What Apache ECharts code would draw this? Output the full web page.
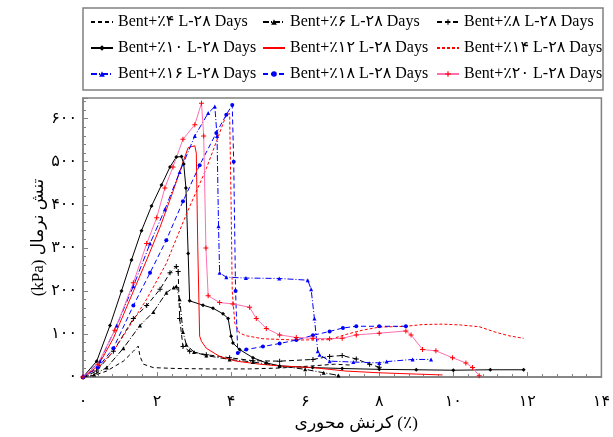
<!DOCTYPE html>
<html>
<head>
<meta charset="utf-8">
<script src="https://cdn.jsdelivr.net/npm/echarts@6/dist/echarts.min.js"></script>
<style>
html,body{margin:0;padding:0;background:#fff;}
#main{width:613px;height:437px;}
</style>
</head>
<body>
<div id="main"></div>
<script>
var myChart = echarts.init(document.getElementById('main'));

// series names (legend)
var names = [
	'Bent+٪۴ L-۲۸ Days', 'Bent+٪۶ L-۲۸ Days', 'Bent+٪۸ L-۲۸ Days',
	'Bent+٪۱۰ L-۲۸ Days', 'Bent+٪۱۲ L-۲۸ Days', 'Bent+٪۱۴ L-۲۸ Days',
	'Bent+٪۱۶ L-۲۸ Days', 'Bent+٪۱۸ L-۲۸ Days', 'Bent+٪۲۰ L-۲۸ Days'
];

// [strain %, stress kPa]
var bent4 = [[0,0],[0.3,4],[0.64,14],[1.09,37],[1.36,60],[1.49,72],[1.54,48],[1.63,30],[1.9,22],[2.5,20],[3.4,19],[4.5,19],[5.3,21],[6.2,26],[6.8,30],[7.2,28]];
var bent6 = [[0,0],[0.3,6],[0.64,22],[1.09,67],[1.54,120],[1.9,151],[2.25,196],[2.45,208],[2.52,211],[2.61,181],[2.7,105],[2.79,75],[3.0,58],[3.33,50],[3.96,41],[4.59,35],[5.31,26],[6.0,18],[6.5,10],[6.9,4]];
var bent8 = [[0,0],[0.37,14],[0.82,60],[1.36,136],[1.72,166],[2.08,204],[2.35,242],[2.52,257],[2.57,245],[2.61,136],[2.7,71],[2.88,60],[3.33,52],[3.96,45],[4.59,38],[5.31,37],[6.21,41],[6.66,48],[7.0,50],[7.38,42],[7.74,30],[8.0,23]];
var bent10 = [[0,0],[0.37,37],[0.73,120],[1.04,200],[1.31,272],[1.58,340],[1.85,397],[2.12,446],[2.35,488],[2.52,511],[2.66,512],[2.72,495],[2.78,439],[2.84,287],[2.88,177],[3.24,167],[3.51,160],[3.78,147],[3.92,136],[4.0,95],[4.05,79],[4.23,64],[4.59,45],[4.95,33],[5.31,26],[6.2,22],[7,20],[8,18],[9,17],[10,16],[11,17],[11.9,17]];
var bent12 = [[0,0],[0.4,25],[0.82,90],[1.27,181],[1.72,272],[2.08,348],[2.43,431],[2.7,499],[2.84,533],[3.02,537],[3.06,520],[3.1,300],[3.15,95],[3.2,83],[3.33,67],[3.69,48],[4.14,37],[4.77,30],[5.31,26],[6.21,22],[7.1,14],[8.0,10],[9.0,7],[9.71,5]];
var bent14 = [[0,0],[0.4,20],[0.82,60],[1.27,120],[1.72,181],[2.25,264],[2.79,378],[3.33,484],[3.69,567],[3.87,609],[3.96,612],[4.0,400],[4.03,200],[4.1,125],[4.23,102],[4.41,96],[4.86,89],[5.76,86],[6.66,87],[7.1,99],[7.55,109],[8.0,116],[8.72,118],[9.17,122],[9.71,123],[10.2,121],[10.7,117],[11.15,104],[11.5,96],[11.9,90]];
var bent16 = [[0,0],[0.46,37],[0.91,120],[1.36,211],[1.81,310],[2.21,389],[2.61,476],[3.02,560],[3.38,613],[3.56,628],[3.62,560],[3.66,350],[3.69,242],[3.87,232],[4.4,230],[5.3,229],[6.07,225],[6.16,204],[6.25,136],[6.34,60],[6.39,52],[6.66,37],[7.3,35],[8.0,33],[8.2,36],[8.9,41],[9.4,41]];
var bent18 = [[0,0],[0.4,22],[0.82,67],[1.36,166],[1.81,242],[2.25,318],[2.7,408],[3.15,492],[3.6,567],[3.87,609],[4.03,632],[4.07,500],[4.12,200],[4.18,56],[4.41,64],[4.86,71],[5.31,78],[5.76,86],[6.21,97],[6.66,106],[7.02,114],[7.38,118],[8.0,118],[8.72,118]];
var bent20 = [[0,0],[0.4,30],[0.86,109],[1.36,219],[1.72,310],[1.99,370],[2.21,439],[2.43,488],[2.7,552],[3.02,586],[3.2,636],[3.26,560],[3.32,300],[3.38,189],[3.69,173],[4.05,170],[4.5,162],[4.68,136],[4.95,113],[5.31,98],[5.76,92],[6.21,90],[6.66,89],[7.0,90],[7.38,98],[8.0,102],[8.72,107],[8.86,98],[9.17,64],[9.53,61],[9.98,45],[10.34,33],[10.52,22],[10.7,3]];

// tick labels
var xTicks = [0,2,4,6,8,10,12,14];
var xTickLabels = ['۰','۲','۴','۶','۸','۱۰','۱۲','۱۴'];
var yTicks = [0,100,200,300,400,500,600];
var yTickLabels = ['۰','۱۰۰','۲۰۰','۳۰۰','۴۰۰','۵۰۰','۶۰۰'];

var FONT = "'Liberation Serif', 'DejaVu Serif', 'DejaVu Sans', serif";
var PLUS = 'path://M2,0H3V2H5V3H3V5H2V3H0V2H2Z';

function tickLabel(ticks, labels){
	return function(v){
		var i = ticks.indexOf(Math.round(v * 100) / 100);
		return i < 0 ? '' : labels[i];
	};
}

function makeSeries(name, data, color, lineType, symbol, size, markColor){
	return {
		name: name,
		type: 'line',
		data: data,
		showSymbol: symbol != 'none',
		symbol: symbol,
		symbolSize: size,
		animation: false,
		lineStyle: {color: color, width: 1, type: lineType},
		itemStyle: {color: markColor || color}
	};
}

// series drawn without markers get no marker in the legend either
var noMark = [0, 4, 5];

function legendCol(idx, left){
	var items = [];
	for (var i = 0; i < idx.length; i++) {
		if (noMark.indexOf(idx[i]) >= 0) {
			items.push({name: names[idx[i]], itemStyle: {opacity: 0}});
		} else {
			items.push({name: names[idx[i]]});
		}
	}
	return {
		data: items,
		orient: 'vertical',
		left: left,
		top: 9,
		itemGap: 10,
		itemWidth: 22,
		itemHeight: 7,
		selectedMode: false,
		textStyle: {fontFamily: FONT, fontSize: 16, color: '#000'}
	};
}

var option = {
	backgroundColor: '#fff',
	animation: false,
	legend: [
		legendCol([0, 3, 6], 85),
		legendCol([1, 4, 7], 257),
		legendCol([2, 5, 8], 431)
	],
	graphic: [{
		type: 'rect',
		shape: {x: 83, y: 8, width: 520, height: 82},
		style: {fill: 'none', stroke: '#808080', lineWidth: 1.5},
		z: -1
	}],
	grid: {
		left: 83, right: 10, top: 98, bottom: 54,
		show: true, borderColor: '#808080', borderWidth: 1.5
	},
	xAxis: {
		type: 'value',
		min: 0, max: 14, interval: 2,
		name: 'کرنش محوری (٪)',
		nameLocation: 'middle',
		nameGap: 34,
		nameTextStyle: {fontFamily: FONT, fontSize: 17, color: '#000', padding: [3, 0, 0, 28]},
		axisLine: {lineStyle: {color: '#808080', width: 1.5}},
		axisTick: {inside: true, length: 5, lineStyle: {color: '#808080'}},
		minorTick: {show: true, splitNumber: 5, length: 3, lineStyle: {color: '#808080'}},
		splitLine: {show: false},
		axisLabel: {fontFamily: FONT, fontSize: 16, color: '#000', margin: 17, formatter: tickLabel(xTicks, xTickLabels)}
	},
	yAxis: {
		type: 'value',
		min: 0, max: 648, interval: 100,
		name: '(kPa) تنش نرمال',
		nameLocation: 'middle',
		nameGap: 36,
		nameMoveOverlap: false,
		nameTextStyle: {fontFamily: FONT, fontSize: 17, color: '#000'},
		axisLine: {show: true, lineStyle: {color: '#808080', width: 1.5}},
		axisTick: {inside: true, length: 5, lineStyle: {color: '#808080'}},
		minorTick: {show: true, splitNumber: 5, length: 3, lineStyle: {color: '#808080'}},
		splitLine: {show: false},
		axisLabel: {fontFamily: FONT, fontSize: 16, color: '#000', margin: 6, showMaxLabel: false, formatter: tickLabel(yTicks, yTickLabels)}
	},
	series: [
		makeSeries(names[0], bent4, '#000', [4,3], 'none', 0),
		makeSeries(names[1], bent6, '#000', [6,2,1,2], 'triangle', 4),
		makeSeries(names[2], bent8, '#000', [5,3], PLUS, 5),
		makeSeries(names[3], bent10, '#000', 'solid', 'diamond', 4),
		makeSeries(names[4], bent12, '#ff0000', 'solid', 'none', 0),
		makeSeries(names[5], bent14, '#ff0000', [3,2], 'none', 0),
		makeSeries(names[6], bent16, '#0000ff', [6,2,1,2], 'triangle', 4),
		makeSeries(names[7], bent18, '#0000ff', [5,3], 'circle', 4),
		makeSeries(names[8], bent20, '#ff6fb0', 'solid', PLUS, 5, '#ff0000')
	]
};

myChart.setOption(option);
</script>
</body>
</html>
